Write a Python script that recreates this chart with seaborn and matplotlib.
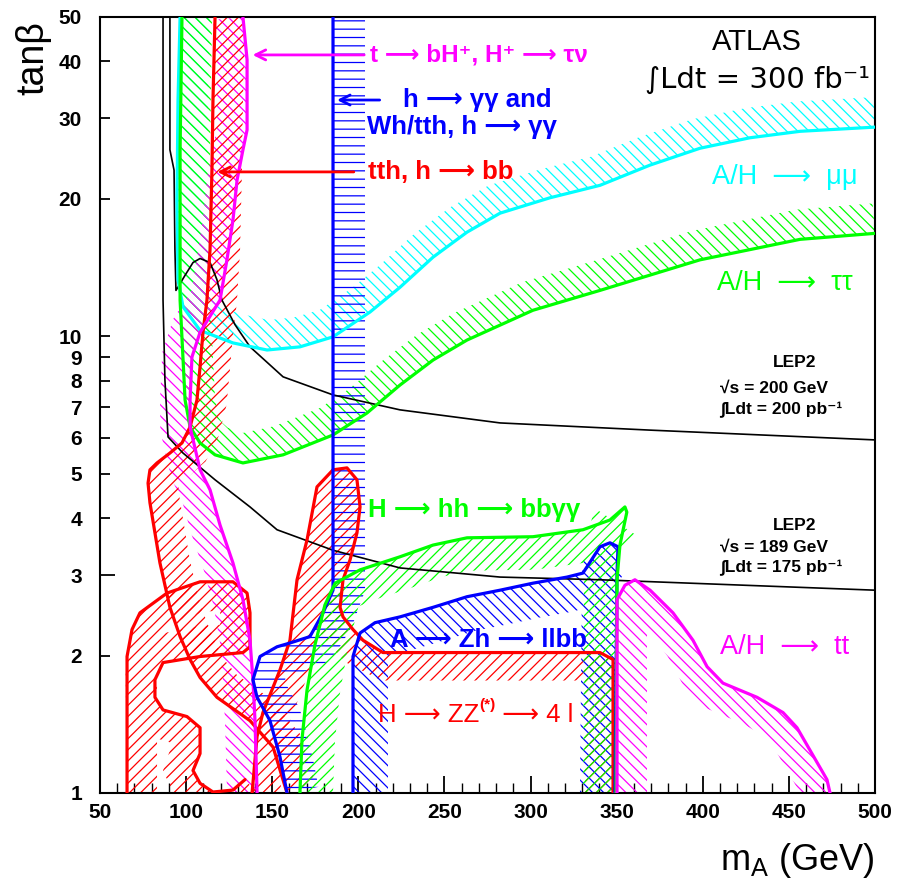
import numpy as np
import matplotlib
matplotlib.use("Agg")
import matplotlib.pyplot as plt
from matplotlib.ticker import FixedLocator, FixedFormatter, MultipleLocator, NullLocator
import seaborn as sns

# ---------------- data (m_A in GeV, tan(beta)) ----------------
lep200_m = [90.6, 90.6, 93.0, 93.5, 94.1, 99.4, 104.0, 108.1, 113.9, 117.9, 120.8, 128.4, 137.1, 156.3, 185.3, 224.2, 282.3, 369.4, 500]
lep200_t = [50, 25.6, 23.1, 15.5, 12.6, 13.6, 14.5, 14.8, 14.5, 13.3, 12.0, 10.6, 9.48, 8.15, 7.44, 6.90, 6.46, 6.23, 5.93]

lep189_m = [86.6, 86.6, 87.7, 89.5, 98.2, 116.8, 137.1, 152.8, 185.3, 224.2, 282.3, 340.3, 500]
lep189_t = [50, 12.0, 8.02, 6.02, 5.55, 4.85, 4.23, 3.77, 3.40, 3.11, 2.97, 2.93, 2.78]

mumu_m = [96.5, 95.3, 94.7, 95.3, 98.2, 108.1, 127.2, 147.0, 166.1, 185.3, 206.8, 224.2, 243.4, 263.1, 282.3, 311.3, 340.3, 369.4, 398.4, 427.4, 456.5, 500]
mumu_t = [50, 32.9, 19.9, 13.3, 11.6, 10.3, 9.67, 9.33, 9.48, 9.97, 11.3, 12.8, 14.9, 16.9, 18.6, 20.1, 21.4, 23.7, 25.8, 27.2, 28.1, 28.7]

tautau_m = [97.6, 96.5, 96.5, 99.4, 102.3, 108.1, 116.8, 133.0, 156.3, 185.3, 205.0, 224.2, 243.4, 263.1, 301.4, 340.3, 398.4, 456.5, 500]
tautau_t = [50, 25.6, 12.0, 7.25, 6.33, 5.84, 5.50, 5.28, 5.50, 6.08, 6.79, 7.82, 8.87, 9.81, 11.4, 12.6, 14.7, 16.3, 16.8]

hplus_m = [133.0, 135.4, 135.4, 133.0, 129.6, 127.2, 123.7, 119.7, 108.1, 103.4, 102.3, 102.3, 108.1, 113.9, 119.7, 127.2, 133.0, 137.1, 138.8, 140.0, 141.2]
hplus_t = [50, 40.3, 28.3, 25.6, 22.0, 17.97, 14.7, 12.0, 10.2, 9.01, 7.25, 6.33, 5.10, 4.61, 3.86, 3.19, 2.65, 2.16, 1.77, 1.44, 1.0]

hgg_m = [185.3, 185.3, 179.5, 171.9, 160.3, 152.8, 142.9, 138.8, 141.2, 148.7, 154.5, 158.6]
hgg_t = [50, 2.78, 2.48, 2.20, 2.13, 2.09, 1.99, 1.77, 1.62, 1.44, 1.20, 1.0]

tthbb_m = [116.8, 115.6, 115.0, 113.9, 112.1, 109.8, 108.1, 106.3, 102.3, 97.6, 90.6, 83.1, 79.0, 77.9, 79.0, 84.8, 90.6, 96.5, 102.3, 108.1, 117.9, 137.1, 150.5, 158.6]
tthbb_t = [50, 32.9, 23.1, 15.5, 12.0, 10.2, 8.57, 7.25, 6.33, 5.84, 5.55, 5.28, 5.10, 4.77, 4.32, 3.19, 2.55, 2.20, 1.96, 1.79, 1.62, 1.44, 1.26, 1.0]

zz_low_m = [65.7, 65.7, 68.6, 73.2, 88.9, 108.1, 127.2, 135.4, 137.1, 137.1, 133.0, 108.1, 86.6, 81.9, 81.9, 86.6, 100.5, 108.1, 108.1, 104.0, 108.1, 115.6, 127.2, 134.2]
zz_low_t = [1.0, 1.99, 2.28, 2.48, 2.74, 2.90, 2.90, 2.74, 2.48, 2.09, 2.03, 1.99, 1.93, 1.77, 1.62, 1.52, 1.47, 1.39, 1.22, 1.12, 1.05, 1.005, 1.015, 1.07]

zz_m = [138.3, 141.2, 144.6, 154.5, 160.3, 164.4, 170.2, 176.0, 185.3, 193.4, 199.2, 201.0, 199.2, 195.2, 191.1, 189.4, 191.1, 196.9, 202.7, 214.3, 340.3, 347.9, 347.9]
zz_t = [1.0, 1.33, 1.50, 1.86, 2.16, 2.93, 3.58, 4.68, 5.10, 5.15, 4.85, 4.23, 3.71, 3.24, 2.93, 2.55, 2.43, 2.28, 2.16, 2.03, 2.03, 1.96, 1.0]

zh_m = [196.9, 196.9, 201.0, 209.7, 224.2, 243.4, 263.1, 282.3, 301.4, 321.2, 330.4, 334.5, 340.3, 346.1, 350.8, 350.2, 349.0]
zh_t = [1.0, 1.99, 2.24, 2.36, 2.43, 2.55, 2.69, 2.78, 2.88, 2.97, 3.03, 3.20, 3.46, 3.53, 3.46, 3.03, 1.0]

hh_m = [166.1, 167.3, 170.2, 174.8, 180.6, 186.5, 201.0, 224.2, 243.4, 263.1, 301.4, 330.4, 346.1, 354.8, 355.9, 351.9, 350.2, 349.6]
hh_t = [1.0, 1.31, 1.68, 2.11, 2.58, 2.88, 3.08, 3.29, 3.49, 3.62, 3.64, 3.77, 3.96, 4.23, 4.12, 3.49, 2.93, 1.0]

tt_m = [350.2, 350.2, 354.8, 360.6, 369.4, 382.7, 394.3, 402.5, 411.7, 431.5, 446.6, 454.7, 462.3, 472.1, 473.9]
tt_t = [1.0, 2.65, 2.85, 2.93, 2.78, 2.48, 2.16, 1.89, 1.74, 1.62, 1.50, 1.39, 1.24, 1.07, 1.0]

x_ticks = [50, 100, 150, 200, 250, 300, 350, 400, 450, 500]
y_ticks = [1, 2, 3, 4, 5, 6, 7, 8, 9, 10, 20, 30, 40, 50]
y_labels = [str(v) for v in y_ticks]

CYAN, GREEN, BLUE, RED, MAG = "#00ffff", "#00ff00", "#0000ff", "#ff0000", "#ff00ff"
AR = "\u27f6"  # long right arrow

# ---------------- style ----------------
sns.set_theme(style="white")
plt.rcParams["font.family"] = ["Liberation Sans", "DejaVu Sans"]
plt.rcParams["mathtext.fontset"] = "custom"
plt.rcParams["mathtext.rm"] = "Liberation Sans"
plt.rcParams["mathtext.it"] = "Liberation Sans:italic"
plt.rcParams["hatch.linewidth"] = 0.9
for k in ["text.color", "axes.labelcolor", "xtick.color", "ytick.color", "axes.edgecolor"]:
    plt.rcParams[k] = "black"

fig = plt.figure(figsize=(8.99, 8.86), dpi=100)
ax = fig.add_axes([100 / 899, 1 - 793 / 886, 775 / 899, 776 / 886])
ax.set_xlim(50, 500)
ax.set_yscale("log")
ax.set_ylim(1, 50)


def band(xs, ys, side, width_px, color, hatch):
    pts = ax.transData.transform(np.column_stack([xs, ys]))
    tang = np.zeros_like(pts)
    tang[1:-1] = pts[2:] - pts[:-2]
    tang[0] = pts[1] - pts[0]
    tang[-1] = pts[-1] - pts[-2]
    tang /= np.linalg.norm(tang, axis=1)[:, None]
    normal = np.column_stack([-tang[:, 1], tang[:, 0]])
    off = pts + side * width_px * normal
    poly = np.vstack([pts, off[::-1]])
    d = ax.transData.inverted().transform(poly)
    ax.fill(d[:, 0], d[:, 1], facecolor="none", edgecolor=color,
            linewidth=0, hatch=hatch, zorder=1)


def line(xs, ys, color, lw=2.3, z=3):
    sns.lineplot(x=xs, y=ys, sort=False, estimator=None, color=color,
                 lw=lw, ax=ax, zorder=z)


# hatched bands
band(mumu_m, mumu_t, +1, 30, CYAN, "\\\\\\")
band(tautau_m, tautau_t, +1, 30, GREEN, "\\\\\\")
band(hplus_m, hplus_t, -1, 30, MAG, "\\\\\\")
band(tthbb_m, tthbb_t, +1, 30, RED, "///")
band(zz_low_m, zz_low_t, -1, 30, RED, "///")
band(zz_m, zz_t, -1, 28, RED, "///")
band(hgg_m, hgg_t, +1, 32, BLUE, "--")
band(zh_m, zh_t, -1, 35, BLUE, "\\\\\\")
band(hh_m, hh_t, -1, 33, GREEN, "///")
band(tt_m, tt_t, -1, 30, MAG, "\\\\\\")

# LEP lines
line(lep200_m, lep200_t, "black", lw=1.2, z=2)
line(lep189_m, lep189_t, "black", lw=1.2, z=2)

# contours
line(mumu_m, mumu_t, CYAN)
line(tautau_m, tautau_t, GREEN)
line(tthbb_m, tthbb_t, RED)
line(zz_low_m, zz_low_t, RED)
line(zz_m, zz_t, RED)
line(hplus_m, hplus_t, MAG)
line(hgg_m, hgg_t, BLUE)
line(zh_m, zh_t, BLUE)
line(hh_m, hh_t, GREEN)
line(tt_m, tt_t, MAG)

# pointer arrows
for (x0, x1, y, c) in [(137, 205, 41.3, MAG), (186, 214, 32.9, BLUE), (116.5, 199, 22.9, RED)]:
    ax.annotate("", xy=(x0, y), xytext=(x1, y),
                arrowprops=dict(arrowstyle="->", color=c, lw=2.0, mutation_scale=18), zorder=4)

fs = 18.5
bw = "bold"
ax.text(206.8, 41.3, f"t {AR} bH\u207a, H\u207a {AR} τν", color=MAG, fontsize=17.5, fontweight=bw, va="center", ha="left")
ax.text(226, 32.9, f"h {AR} γγ and", color=BLUE, fontsize=fs, fontweight=bw, va="center", ha="left")
ax.text(205, 28.7, f"Wh/tth, h {AR} γγ", color=BLUE, fontsize=fs, fontweight=bw, va="center", ha="left")
ax.text(205.6, 22.9, f"tth, h {AR} bb", color=RED, fontsize=fs, fontweight=bw, va="center", ha="left")
ax.text(431.5, 44.1, "ATLAS", fontsize=21, va="center", ha="center")
ax.text(431.5, 36.4, "∫Ldt = 300 fb\u207b\u00b9", fontsize=21, va="center", ha="center",
        family=["DejaVu Sans"])
ax.text(447.8, 22.3, f"A/H  {AR}  μμ", color=CYAN, fontsize=19.5, va="center", ha="center")
ax.text(447.8, 13.1, f"A/H  {AR}  ττ", color=GREEN, fontsize=19.5, va="center", ha="center")
lf = 12.5
ax.text(453.6, 8.74, "LEP2", fontsize=lf, fontweight=bw, va="center", ha="center")
ax.text(410, 7.70, "√s = 200 GeV", fontsize=lf, fontweight=bw, va="center", ha="left")
ax.text(410, 6.90, "∫Ldt = 200 pb\u207b\u00b9", fontsize=lf, fontweight=bw, va="center", ha="left")
ax.text(453.6, 3.86, "LEP2", fontsize=lf, fontweight=bw, va="center", ha="center")
ax.text(410, 3.46, "√s = 189 GeV", fontsize=lf, fontweight=bw, va="center", ha="left")
ax.text(410, 3.11, "∫Ldt = 175 pb\u207b\u00b9", fontsize=lf, fontweight=bw, va="center", ha="left")
ax.text(410, 2.09, f"A/H  {AR}  tt", color=MAG, fontsize=19.5, va="center", ha="left")
ax.text(205.6, 4.17, f"H {AR} hh {AR} bbγγ", color=GREEN, fontsize=fs, fontweight=bw, va="center", ha="left")
ax.text(218.4, 2.16, f"A {AR} Zh {AR} llbb", color=BLUE, fontsize=fs, fontweight=bw, va="center", ha="left")
t1 = ax.text(211.4, 1.43, f"H {AR} ZZ", color=RED, fontsize=fs, va="baseline", ha="left")
t2 = ax.annotate("(*)", xy=(1.0, 0.62), xycoords=t1, color=RED, fontsize=11, fontweight=bw, va="bottom", ha="left")
ax.annotate(f" {AR} 4 l", xy=(1.0, 0.0), xycoords=(t2, t1), color=RED, fontsize=fs, va="bottom", ha="left")

# axes, ticks
ax.set_xlabel("")
ax.set_ylabel("")
ax.xaxis.set_major_locator(FixedLocator(x_ticks))
ax.xaxis.set_minor_locator(MultipleLocator(10))
ax.yaxis.set_major_locator(FixedLocator(y_ticks))
ax.yaxis.set_major_formatter(FixedFormatter(y_labels))
ax.yaxis.set_minor_locator(NullLocator())
ax.tick_params(axis="x", which="major", direction="in", length=12, width=1.3, pad=7, labelsize=15, bottom=True, top=False)
ax.tick_params(axis="x", which="minor", direction="in", length=7, width=1.0, bottom=True, top=False)
ax.tick_params(axis="y", which="major", direction="in", length=7, width=1.3, pad=13, labelsize=15, left=True, right=False)
for t in ax.yaxis.get_major_ticks():
    if t.get_loc() == 10:
        t.tick1line.set_markersize(11)
for lab in ax.get_xticklabels() + ax.get_yticklabels():
    lab.set_fontweight("bold")
for s in ax.spines.values():
    s.set_color("black")
    s.set_linewidth(1.5)

fig.text(875 / 899, 1 - 860 / 886, "m$_{\\rm A}$ (GeV)", fontsize=26, ha="right", va="center")
fig.text(33 / 899, 1 - 58 / 886, "tanβ", fontsize=27, rotation=90, ha="center", va="center")

fig.savefig("out.png", dpi=100)
